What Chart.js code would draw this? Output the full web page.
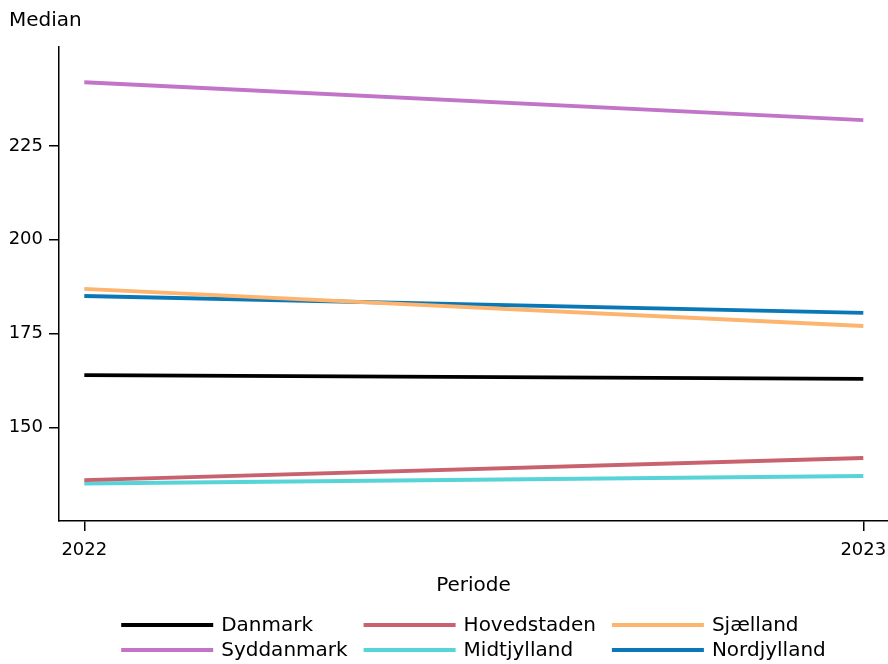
<!DOCTYPE html>
<html>
<head>
<meta charset="utf-8">
<script src="https://cdn.jsdelivr.net/npm/chart.js@4.4.1/dist/chart.umd.min.js"></script>
<style>
  html, body { margin: 0; padding: 0; background: #fff; }
  #wrap { width: 888px; height: 664px; }
</style>
</head>
<body>
<div id="wrap"><canvas id="chart" width="888" height="664"></canvas></div>
<script>
// Data
const periods = [2022, 2023];
const xTicks = [2022, 2023];
const yTicks = [150, 175, 200, 225];

const regions = ['Danmark', 'Hovedstaden', 'Sjælland', 'Syddanmark', 'Midtjylland', 'Nordjylland'];
const danmark = [163.9, 162.9];
const hovedstaden = [135.9, 141.8];
const sjaelland = [186.9, 177.0];
const syddanmark = [242.0, 231.9];
const midtjylland = [135.0, 137.0];
const nordjylland = [185.0, 180.5];

const colors = ['#000000', '#c8626e', '#fdb46e', '#c274c8', '#57d4d8', '#0a78b6'];
const values = [danmark, hovedstaden, sjaelland, syddanmark, midtjylland, nordjylland];

const FONT = "'DejaVu Sans', sans-serif";

// Median label at the top-left + three-column legend under the axis
const extras = {
  id: 'extras',
  afterDraw(chart) {
    const ctx = chart.ctx;
    const area = chart.chartArea;
    ctx.save();
    ctx.fillStyle = '#000';
    ctx.font = `20px ${FONT}`;
    ctx.textAlign = 'left';
    ctx.textBaseline = 'middle';
    ctx.fillText('Median', 9, 21);

    const ds = chart.data.datasets;
    const cols = 3, lineLen = 92, gapText = 8, colGap = 16;
    const widths = [];
    for (let c = 0; c < cols; c++) {
      let w = 0;
      for (let i = c; i < ds.length; i += cols) {
        w = Math.max(w, lineLen + gapText + ctx.measureText(ds[i].label).width);
      }
      widths.push(w);
    }
    const total = widths.reduce((a, b) => a + b, 0) + colGap * (cols - 1);
    let x0 = (area.left + area.right) / 2 - total / 2;
    const rowY = [625, 650];
    ds.forEach((d, i) => {
      const c = i % cols, r = Math.floor(i / cols);
      let x = x0;
      for (let k = 0; k < c; k++) x += widths[k] + colGap;
      const y = rowY[r];
      ctx.strokeStyle = d.borderColor;
      ctx.lineWidth = 4;
      ctx.beginPath();
      ctx.moveTo(x, y);
      ctx.lineTo(x + lineLen, y);
      ctx.stroke();
      ctx.fillStyle = '#000';
      ctx.fillText(d.label, x + lineLen + gapText, y + 1);
    });
    ctx.restore();
  }
};

new Chart(document.getElementById('chart'), {
  type: 'line',
  data: {
    datasets: regions.map((name, i) => ({
      label: name,
      data: periods.map((p, j) => ({ x: p, y: values[i][j] })),
      borderColor: colors[i],
      backgroundColor: colors[i],
      borderWidth: 4,
      pointRadius: 0,
      tension: 0
    }))
  },
  options: {
    responsive: false,
    animation: false,
    layout: { padding: { top: 47, left: 0, right: 0, bottom: 66 } },
    plugins: {
      legend: { display: false },
      tooltip: { enabled: false }
    },
    scales: {
      x: {
        type: 'linear',
        min: 2021.9675,
        max: 2023.0317,
        afterBuildTicks: (s) => { s.ticks = xTicks.map(v => ({ value: v })); },
        afterFit: (s) => { s.height = 77; s.paddingLeft = 0; s.paddingRight = 0; },
        grid: { drawOnChartArea: false, drawTicks: true, tickLength: 10, color: '#000', lineWidth: 1.5 },
        border: { display: true, color: '#000', width: 1.5 },
        ticks: {
          color: '#000',
          padding: 9,
          maxRotation: 0,
          font: { family: FONT, size: 18 },
          callback: (v) => String(v)
        },
        title: {
          display: true,
          text: 'Periode',
          color: '#000',
          padding: { top: 0, bottom: 0 },
          font: { family: FONT, size: 20 }
        }
      },
      y: {
        type: 'linear',
        min: 125,
        max: 251.4,
        afterBuildTicks: (s) => { s.ticks = yTicks.map(v => ({ value: v })); },
        afterFit: (s) => { s.width = 59; s.paddingTop = 0; s.paddingBottom = 0; },
        grid: { drawOnChartArea: false, drawTicks: true, tickLength: 10, color: '#000', lineWidth: 1.5 },
        border: { display: true, color: '#000', width: 1.5 },
        ticks: {
          color: '#000',
          padding: 6,
          font: { family: FONT, size: 18 },
          callback: (v) => String(v)
        }
      }
    }
  },
  plugins: [extras]
});
</script>
</body>
</html>
